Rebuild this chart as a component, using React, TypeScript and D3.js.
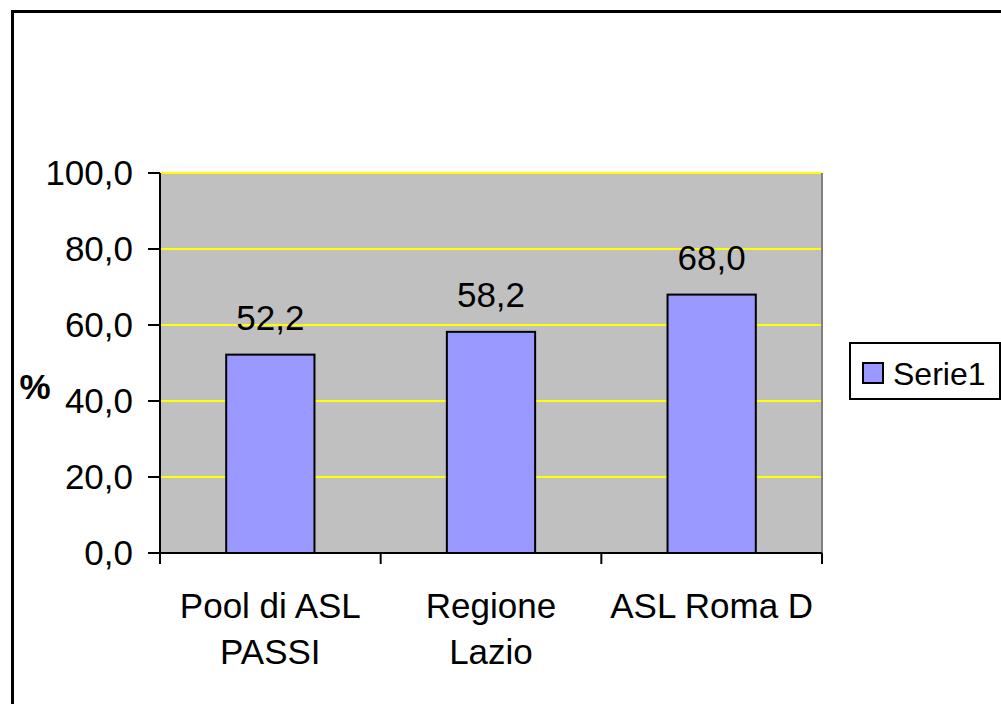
import React from "react";
import * as d3 from "d3";

const categories: string[][] = [["Pool di ASL", "PASSI"], ["Regione", "Lazio"], ["ASL Roma D"]];
const values: number[] = [52.2, 58.2, 68.0];
const yTicks: number[] = [0, 20, 40, 60, 80, 100];
const seriesName = "Serie1";
const yAxisLabel = "%";

const fmt = (v: number) => v.toFixed(1).replace(".", ",");

export default function App() {
  const W = 1001, H = 704;
  const left = 160, right = 822, top = 173, bottom = 553;
  const x = d3.scaleBand<number>().domain(d3.range(values.length)).range([left, right]).paddingInner(0.6).paddingOuter(0.3);
  const xc = d3.scaleBand<number>().domain(d3.range(values.length)).range([left, right]);
  const y = d3.scaleLinear().domain([0, 100]).range([bottom, top]);
  const font = "Arial, 'Liberation Sans', sans-serif";
  const bw = xc.bandwidth() / 2.5;
  return (
    <svg width={W} height={H} style={{ position: "absolute", left: 0, top: 0, background: "#fff" }} fontFamily={font}>
      <rect x={12.5} y={11.5} width={W + 20} height={H + 20} fill="none" stroke="#000" strokeWidth={3} />
      <rect x={left} y={top} width={right - left} height={bottom - top} fill="#C0C0C0" />
      {yTicks.filter((t) => t > 0).map((t) => (
        <line key={t} x1={left} x2={right} y1={y(t)} y2={y(t)} stroke="#FFFF00" strokeWidth={2} />
      ))}
      <line x1={right} x2={right} y1={top} y2={bottom} stroke="#808080" strokeWidth={2} />
      {values.map((v, i) => {
        const cx = (xc(i) as number) + xc.bandwidth() / 2;
        return (
          <g key={i}>
            <rect x={cx - bw / 2} y={y(v)} width={bw} height={bottom - y(v)} fill="#9999FF" stroke="#000" strokeWidth={2} />
            <text x={cx} y={y(v) - 25} textAnchor="middle" fontSize={35} fill="#000">{fmt(v)}</text>
            {categories[i].map((line, j) => (
              <text key={j} x={cx} y={618 + j * 46} textAnchor="middle" fontSize={35} fill="#000">{line}</text>
            ))}
          </g>
        );
      })}
      <line x1={left} x2={left} y1={top} y2={bottom + 11} stroke="#000" strokeWidth={2} />
      <line x1={left - 12} x2={right} y1={bottom} y2={bottom} stroke="#000" strokeWidth={2} />
      {yTicks.map((t) => (
        <g key={t}>
          <line x1={left - 12} x2={left} y1={y(t)} y2={y(t)} stroke="#000" strokeWidth={2} />
          <text x={133} y={y(t) + 12} textAnchor="end" fontSize={35} fill="#000">{fmt(t)}</text>
        </g>
      ))}
      {d3.range(values.length + 1).map((i) => {
        const tx = left + i * xc.bandwidth();
        return <line key={i} x1={tx} x2={tx} y1={bottom} y2={bottom + 11} stroke="#000" strokeWidth={2} />;
      })}
      <text x={35} y={399} textAnchor="middle" fontSize={35} fontWeight="bold" fill="#000">{yAxisLabel}</text>
      <rect x={850} y={343} width={150} height={56} fill="#fff" stroke="#000" strokeWidth={2} />
      <rect x={863} y={363} width={20} height={20} fill="#9999FF" stroke="#000" strokeWidth={2} />
      <text x={893} y={385} fontSize={32} fill="#000">{seriesName}</text>
    </svg>
  );
}
